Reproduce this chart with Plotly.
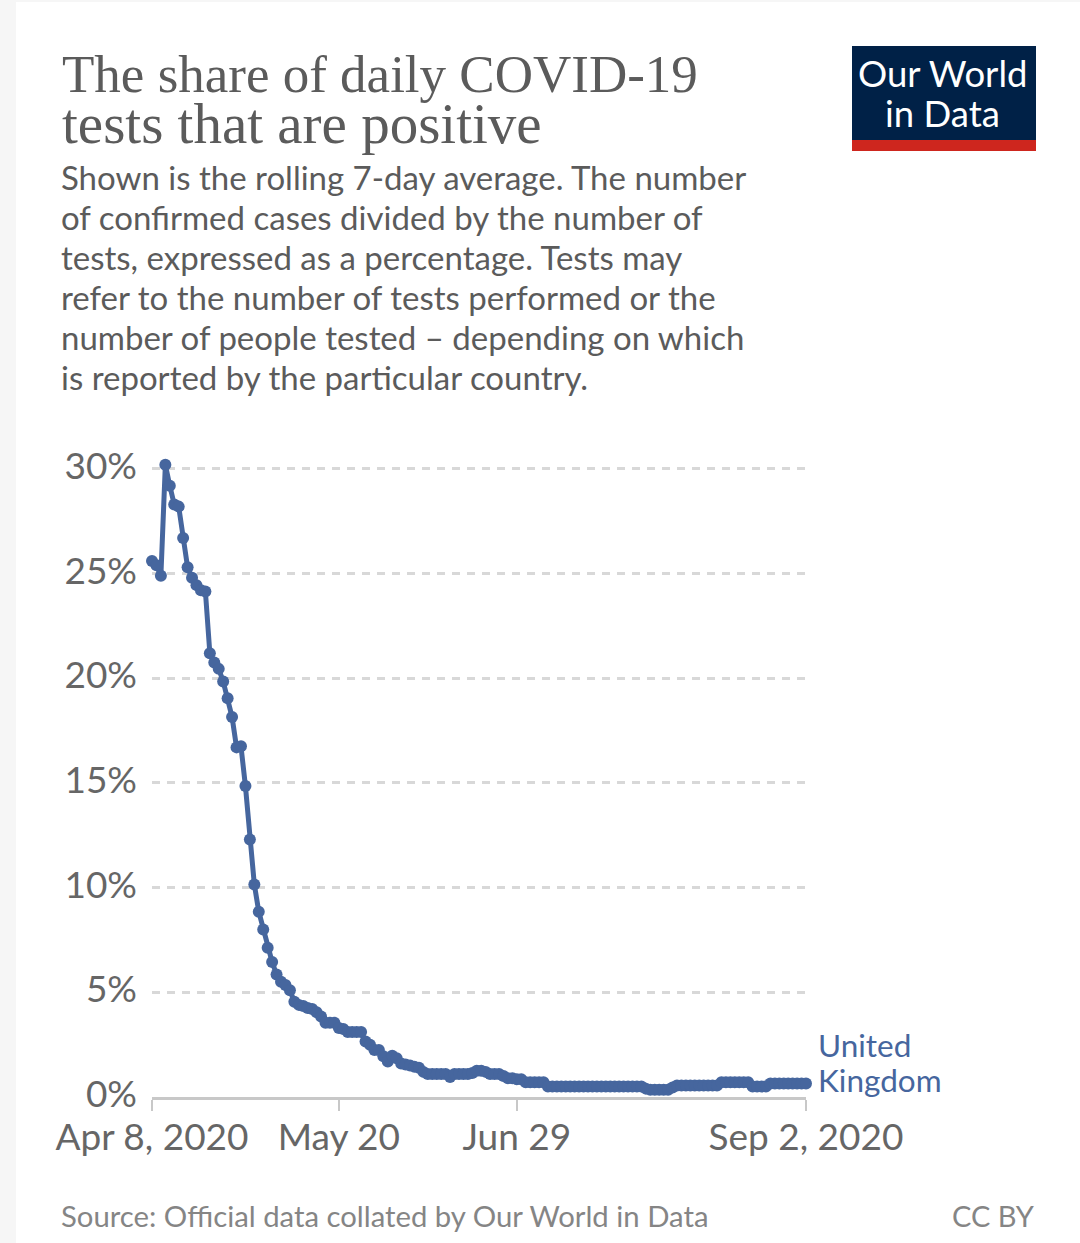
import datetime as dt
import plotly.graph_objects as go

START = dt.date(2020, 4, 8)
positive_rate = [
    25.6, 25.4, 24.9, 30.2, 29.2, 28.3, 28.2, 26.7, 25.3, 24.8,
    24.45, 24.2, 24.15, 21.2, 20.75, 20.45, 19.85, 19.05, 18.15, 16.7,
    16.75, 14.85, 12.3, 10.15, 8.85, 8.0, 7.13, 6.45, 5.85, 5.5,
    5.35, 5.1, 4.55, 4.4, 4.35, 4.25, 4.2, 4.05, 3.85, 3.55,
    3.55, 3.55, 3.3, 3.25, 3.1, 3.1, 3.1, 3.1, 2.65, 2.5,
    2.25, 2.25, 1.95, 1.7, 1.97, 1.85, 1.6, 1.55, 1.5, 1.45,
    1.4, 1.2, 1.1, 1.1, 1.1, 1.1, 1.1, 0.95, 1.1, 1.1,
    1.1, 1.1, 1.15, 1.25, 1.25, 1.2, 1.1, 1.1, 1.1, 1.0,
    0.9, 0.9, 0.85, 0.85, 0.7, 0.7, 0.7, 0.7, 0.7, 0.5,
    0.5, 0.5, 0.5, 0.5, 0.5, 0.5, 0.5, 0.5, 0.5, 0.5,
    0.5, 0.5, 0.5, 0.5, 0.5, 0.5, 0.5, 0.5, 0.5, 0.5,
    0.5, 0.4, 0.35, 0.35, 0.35, 0.35, 0.35, 0.45, 0.55, 0.55,
    0.55, 0.55, 0.55, 0.55, 0.55, 0.55, 0.55, 0.55, 0.7, 0.7,
    0.7, 0.7, 0.7, 0.7, 0.7, 0.5, 0.5, 0.5, 0.5, 0.65,
    0.65, 0.65, 0.65, 0.65, 0.65, 0.65, 0.65, 0.65,
]
dates = [START + dt.timedelta(days=i) for i in range(len(positive_rate))]

y_ticks = [0, 5, 10, 15, 20, 25, 30]
y_labels = ["0%", "5%", "10%", "15%", "20%", "25%", "30%"]
x_ticks = [dt.date(2020, 4, 8), dt.date(2020, 5, 20), dt.date(2020, 6, 29), dt.date(2020, 9, 2)]
x_labels = ["Apr 8, 2020", "May 20", "Jun 29", "Sep 2, 2020"]

title_lines = ["The share of daily COVID-19", "tests that are positive"]
subtitle_lines = [
    "Shown is the rolling 7-day average. The number",
    "of confirmed cases divided by the number of",
    "tests, expressed as a percentage. Tests may",
    "refer to the number of tests performed or the",
    "number of people tested – depending on which",
    "is reported by the particular country.",
]
series_label = ["United", "Kingdom"]
logo_lines = ["Our World", "in Data"]
source_text = "Source: Official data collated by Our World in Data"
licence_text = "CC BY"

W, H = 1080, 1243
PX_PER_UNIT = 20.93
Y_TOP = 31
L, R, B = 152, 806, 1097
T = round(B - Y_TOP * PX_PER_UNIT)
BLUE = "#46669e"


def px(x):
    return (x - L) / (R - L)


def py(y):
    return (B - y) / (B - T)


def note(text, x, y, size, color, font="Lato", anchor="left"):
    return dict(text=text, x=px(x), y=py(y), xref="paper", yref="paper", showarrow=False,
                xanchor=anchor, yanchor="middle", align=anchor,
                font=dict(family=font, size=size, color=color), borderpad=0)


annotations = []
for t, size, y in zip(title_lines, (53, 57), (74, 123)):
    annotations.append(note(t, 61, y, size, "#5b5b5b", "Liberation Serif"))
for i, t in enumerate(subtitle_lines):
    annotations.append(note(t, 60, 177 + i * 40, 33, "#5b5b5b"))
for i, t in enumerate(series_label):
    annotations.append(note(t, 817, 1045 + i * 35, 31.5, BLUE))
for i, t in enumerate(logo_lines):
    annotations.append(note(t, 943, 73 + i * 40, 36.5, "#ffffff", anchor="center"))
annotations.append(note(source_text, 60, 1215, 29.3, "#858585"))
annotations.append(note(licence_text, 1036, 1215, 29, "#858585", anchor="right"))


def rect(x0, y0, x1, y1, color):
    return dict(type="rect", xref="paper", yref="paper", x0=px(x0), x1=px(x1), y0=py(y0), y1=py(y1),
                fillcolor=color, line=dict(width=0), layer="below")


shapes = [
    rect(16, 2, 1080, 1243, "#ffffff"),
    rect(852, 46, 1036, 140, "#002147"),
    rect(852, 140, 1036, 151, "#ce261e"),
]

fig = go.Figure(go.Scatter(
    x=dates, y=positive_rate, mode="lines+markers",
    line=dict(color=BLUE, width=5),
    marker=dict(color=BLUE, size=12),
    cliponaxis=False, showlegend=False,
))
fig.update_layout(
    width=W, height=H, autosize=False,
    margin=dict(l=L, r=W - R, t=T, b=H - B, pad=0),
    paper_bgcolor="#f6f6f6", plot_bgcolor="rgba(0,0,0,0)",
    shapes=shapes, annotations=annotations,
    font=dict(family="Lato", color="#666666"),
    xaxis=dict(
        type="date", range=[dates[0], dates[-1]], tickmode="array",
        tickvals=x_ticks, ticktext=x_labels, showgrid=False, zeroline=False,
        showline=True, linecolor="#c8c8c8", linewidth=3,
        ticks="outside", ticklen=11, tickwidth=2, tickcolor="#c8c8c8",
        tickfont=dict(family="Lato", size=37, color="#666666"),
        ticklabelstandoff=-5,
    ),
    yaxis=dict(
        range=[0, Y_TOP], tickmode="array", tickvals=y_ticks, ticktext=y_labels,
        showgrid=True, gridcolor="#d8d8d8", gridwidth=2.5, griddash="8px,7px",
        zeroline=False, showline=False, ticks="", ticklen=0,
        tickfont=dict(family="Lato", size=37, color="#666666"),
        ticklabelstandoff=14, ticklabelshift=-3,
    ),
)
fig.write_html("out.html", config={"displayModeBar": False},
               post_script="document.body.style.margin='0';window.dispatchEvent(new Event('resize'));")
